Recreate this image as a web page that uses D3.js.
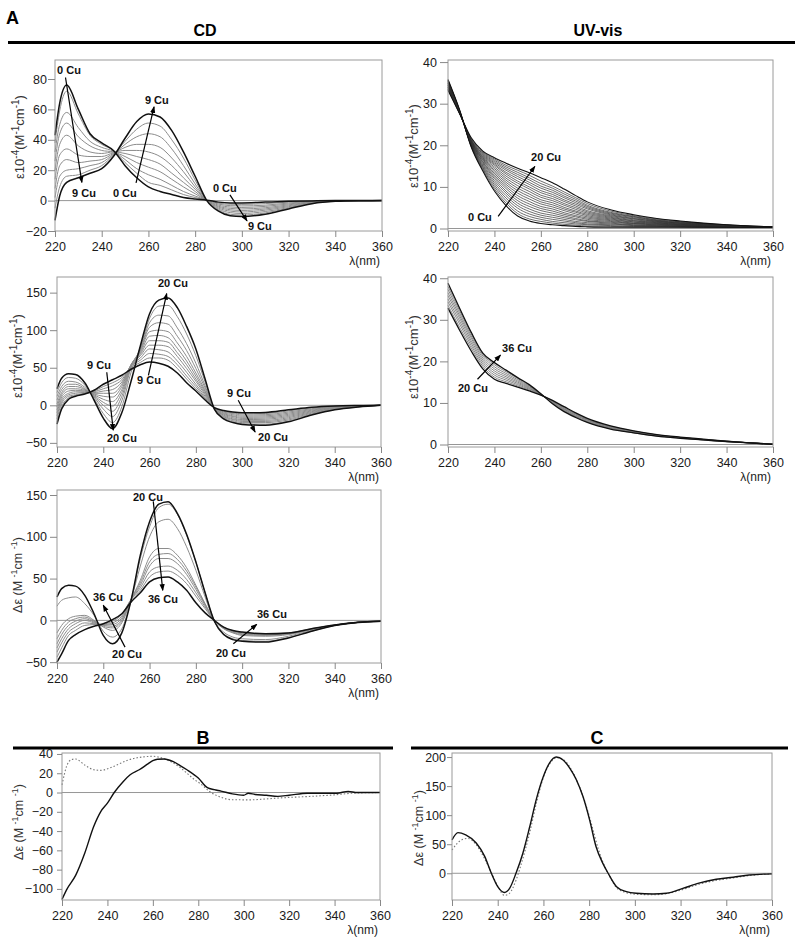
<!DOCTYPE html>
<html><head><meta charset="utf-8">
<script src="https://cdn.jsdelivr.net/npm/d3@7"></script>
<style>
body{margin:0;background:#fff}
svg{display:block}
text{font-family:Arial,"Liberation Sans",sans-serif}
</style>
</head><body>
<svg id="fig" width="800" height="943"></svg>
<script>
// ---------------- DATA ----------------
const xTicks = [220,240,260,280,300,320,340,360];

// Panel A / CD (0 -> 9 Cu); rows = wavelength, columns = Cu equivalents
const cd1Cu = [0,1,2,3,4,5,6,7,8,9];
const cd1Wl = [220,222,225,230,235,240,245,250,255,260,265,270,275,280,285,290,295,300,310,320,330,340,350,360];
const cd1Table = [
 [43,38,32,26,20,14,8,2,-5,-13],
 [64,59,50,44,37,30,23,16,9,3],
 [76,72,58,51,43,34,27,20,16,12],
 [60,57,48,42,36,30,25,21,17,15],
 [44,43,39,36,32,29,26,23,20,18],
 [38,37,35,33,31,29,27,25,23,21],
 [33,33,32.5,32,32,31.5,31,30.5,30,29],
 [23,25,27,29,31,33,35,37,39,41],
 [15,18,21,25,29,33,37,42,47,52],
 [9,12,17,22,27,32,37,44,51,57],
 [6,10,14,19,24,29,35,42,49,55],
 [4,7,10,14,18,23,28,34,40,46],
 [2,4,6,9,12,15,19,23,28,32],
 [1,2,3,4.5,6,7.5,9,11,13.5,16],
 [0.3,0.3,0.2,0.2,0.1,0.1,0,0,0,0],
 [-1,-1.7,-2.3,-3,-3.7,-4.3,-5,-5.7,-6.3,-7],
 [-1.5,-2.4,-3.3,-4.2,-5.1,-6,-6.9,-7.9,-9,-10],
 [-1.5,-2.5,-3.5,-4.5,-5.5,-6.5,-7.5,-8.5,-9.5,-10.5],
 [-1,-2,-3,-3.8,-4.7,-5.5,-6.3,-7.2,-8.1,-9],
 [-0.5,-1,-1.6,-2.2,-2.8,-3.4,-4,-4.6,-5,-5.5],
 [-0.2,-0.4,-0.6,-0.8,-1,-1.2,-1.4,-1.6,-1.8,-2],
 [0,-0.1,-0.1,-0.2,-0.2,-0.3,-0.3,-0.4,-0.4,-0.5],
 [0,0,0,0,0,0,-0.1,-0.1,-0.1,-0.1],
 [0,0,0,0,0,0,0,0,0,0]
];

// Panel A / UV-vis (0 -> 20 Cu)
const uv1Cu = d3.range(0,21);
const uvWl = [220,225,230,235,240,245,250,255,260,265,270,275,280,290,300,310,320,330,340,350,360];
const uv1Table = [
 [35.8,35.7,35.5,35.4,35.3,35.1,35.0,34.9,34.8,34.6,34.5,34.4,34.3,34.1,34.0,33.9,33.8,33.6,33.5,33.4,33.2],
 [28.5,28.4,28.4,28.3,28.3,28.2,28.2,28.1,28.1,28.0,28.0,28.0,27.9,27.9,27.8,27.8,27.8,27.7,27.7,27.6,27.6],
 [19.6,19.7,19.8,19.9,20.0,20.1,20.2,20.3,20.4,20.5,20.6,20.7,20.8,20.9,21.0,21.1,21.2,21.3,21.4,21.6,21.8],
 [13.8,14.1,14.4,14.7,15.0,15.3,15.6,15.9,16.1,16.4,16.6,16.8,17.0,17.2,17.4,17.6,17.8,18.0,18.2,18.4,18.6],
 [9.0,9.5,10.0,10.5,11.0,11.5,12.0,12.4,12.8,13.2,13.6,14.0,14.4,14.8,15.2,15.5,15.8,16.1,16.4,16.7,17.0],
 [5.5,6.1,6.7,7.3,7.9,8.5,9.0,9.6,10.1,10.6,11.1,11.6,12.1,12.6,13.1,13.5,14.0,14.4,14.8,15.2,15.7],
 [3.0,3.6,4.2,4.9,5.5,6.1,6.7,7.3,7.9,8.5,9.1,9.7,10.3,10.9,11.4,12.0,12.5,13.0,13.5,14.0,14.5],
 [1.8,2.3,2.9,3.5,4.1,4.7,5.3,5.9,6.5,7.1,7.7,8.3,8.9,9.5,10.0,10.6,11.1,11.7,12.2,12.8,13.4],
 [1.2,1.7,2.2,2.7,3.2,3.7,4.3,4.8,5.3,5.9,6.4,6.9,7.5,8.0,8.6,9.1,9.7,10.2,10.8,11.4,12.2],
 [0.9,1.3,1.7,2.2,2.7,3.2,3.7,4.2,4.7,5.2,5.7,6.2,6.7,7.2,7.7,8.2,8.7,9.2,9.7,10.2,11.0],
 [0.7,1.0,1.4,1.8,2.2,2.6,3.0,3.4,3.8,4.3,4.7,5.1,5.6,6.0,6.5,6.9,7.4,7.8,8.3,8.8,9.5],
 [0.5,0.8,1.1,1.4,1.7,2.1,2.4,2.8,3.1,3.5,3.9,4.2,4.6,5.0,5.4,5.8,6.2,6.6,7.0,7.4,7.9],
 [0.4,0.6,0.9,1.1,1.4,1.7,1.9,2.2,2.5,2.8,3.1,3.4,3.7,4.0,4.3,4.7,5.0,5.3,5.6,6.0,6.4],
 [0.3,0.5,0.7,0.9,1.1,1.3,1.5,1.7,1.9,2.1,2.3,2.5,2.7,2.9,3.1,3.3,3.5,3.7,3.9,4.2,4.5],
 [0.3,0.4,0.5,0.7,0.8,0.9,1.1,1.2,1.3,1.5,1.6,1.8,1.9,2.1,2.3,2.4,2.6,2.8,2.9,3.1,3.3],
 [0.3,0.4,0.5,0.6,0.7,0.8,0.9,1.0,1.1,1.2,1.3,1.4,1.5,1.6,1.7,1.8,1.9,2.0,2.1,2.3,2.4],
 [0.3,0.4,0.4,0.5,0.6,0.6,0.7,0.8,0.8,0.9,1.0,1.0,1.1,1.2,1.3,1.3,1.4,1.5,1.6,1.7,1.8],
 [0.3,0.3,0.4,0.4,0.5,0.5,0.6,0.6,0.7,0.7,0.8,0.8,0.9,0.9,1.0,1.0,1.1,1.1,1.2,1.2,1.3],
 [0.3,0.3,0.3,0.4,0.4,0.4,0.5,0.5,0.5,0.6,0.6,0.6,0.7,0.7,0.7,0.8,0.8,0.8,0.8,0.9,0.9],
 [0.3,0.3,0.3,0.3,0.3,0.4,0.4,0.4,0.4,0.4,0.4,0.5,0.5,0.5,0.5,0.5,0.5,0.5,0.6,0.6,0.6],
 [0.3,0.3,0.3,0.3,0.3,0.3,0.3,0.3,0.3,0.3,0.3,0.3,0.3,0.4,0.4,0.4,0.4,0.4,0.4,0.4,0.4]
];

// Panel A / CD (9 -> 20 Cu) and (20 -> 36 Cu)
const cdWl = [220,222,225,228,232,236,240,244,248,252,256,260,264,268,272,276,280,284,288,292,296,300,310,320,330,340,350,360];
const cd2Cu = [9,10,11,12,13,14,15,16,17,18,19,20];
const cd2Table = [
 [-25,-22,-18,-14,-10,-6,-2,2,7,12,17,22],
 [-5,-2,2,5,8,11,14,17,21,25,30,36],
 [8,10,12,14,16,19,22,25,28,32,37,42],
 [12,13,14,16,18,20,22,25,28,31,36,41],
 [15,15.5,16,17,18,19,20,21,22,24,27,30],
 [20,19,18,17,16,15,14,13,12,11,9,7],
 [28,25,22,19,16,12,8,4,0,-5,-11,-17],
 [34,30,26,21,16,11,5,-1,-8,-15,-23,-31],
 [40,37,34,31,28,25,21,17,12,6,-2,-10],
 [48,50,52,53,54,54,54,53,52,50,44,32],
 [54,57,60,63,66,68,70,72,74,75,77,79],
 [57.5,63,69,75,80,86,92,98,104,110,116,122],
 [56,63,68,74,80,86,93,100,110,120,132,140],
 [52,60,65,71,78,84,90,98,108,119,133,143],
 [43,49,54,59,65,70,76,83,92,103,118,130],
 [30,35,39,44,49,54,59,65,73,82,95,105],
 [19,22,25,28,32,35,39,43,49,56,66,75],
 [7,9,10,12,14,16,18,20,23,26,31,35],
 [-3,-3,-3.5,-3.5,-4,-4,-4,-4.5,-4.5,-4.5,-5,-5],
 [-7,-8,-9,-10,-11,-12,-13,-14,-15,-16,-17,-18],
 [-9,-10,-11,-12.5,-14,-15,-16.5,-18,-19,-20.5,-22,-23],
 [-10,-11.5,-13,-14.5,-16,-17.5,-19,-20,-21.5,-23,-24.5,-25.5],
 [-9.5,-11,-12.5,-14,-15.5,-17,-18.5,-20,-21.5,-23,-25,-26.5],
 [-6,-7.5,-9,-10.5,-12,-13.5,-15,-16.5,-18,-19.5,-21,-22],
 [-2.5,-3.5,-4.5,-5.5,-6.5,-7.5,-8.5,-9.5,-10.5,-11.5,-12.5,-13],
 [-0.8,-1.2,-1.7,-2.2,-2.7,-3.2,-3.7,-4.2,-4.7,-5.2,-5.7,-6],
 [-0.2,-0.4,-0.6,-0.8,-1,-1.2,-1.4,-1.6,-1.8,-2,-2.2,-2.3],
 [0,0,0,0,0,0,0,0,0,0,0,0]
];
const cd3Cu = [20,22,24,26,28,30,32,34,36];
const cd3Table = [
 [28,17,-15,-22,-28,-33,-38,-44,-50],
 [38,24,-6,-12,-17,-22,-27,-33,-40],
 [42,27,2,-2,-6,-10,-14,-18,-24],
 [41,28,5,2,-1,-4,-8,-12,-17],
 [30,20,6,4,2,0,-3,-6,-11],
 [8,6,0,-1,-2,-3,-4,-5,-7],
 [-18,-13,-8,-7,-6,-5.5,-5,-4.5,-4],
 [-28,-20,-12,-9,-7,-5,-3,-1,1],
 [-15,-10,-3,-1,1,3,5,7,8],
 [24,24,25,25,25,25,25,25,22],
 [78,74,65,48,45,42,39,36,33],
 [118,112,100,76,70,65,58,52,46],
 [139,135,118,86,79,74,64,58,51],
 [142,139,121,86,80,74,65,59,52],
 [128,127,110,78,73,68,60,54,46],
 [103,102,88,63,59,55,49,44,36],
 [70,70,60,42,40,37,33,29,21],
 [33,33,28,20,19,18,16,14,9],
 [-1,-1,-1,0,0,0,0,0,0],
 [-17,-16,-14,-10,-9.5,-9,-8.5,-8,-8],
 [-23,-22,-20,-15,-14.5,-14,-13,-12.5,-12],
 [-25,-24,-22,-18,-17,-16,-15,-14.5,-14],
 [-26,-25,-23,-19,-18,-17.5,-17,-16.5,-16],
 [-21,-20.5,-19,-17,-16.5,-16,-15.5,-15,-15],
 [-13,-13,-12,-11,-11,-10.5,-10.5,-10,-10],
 [-6,-6,-6,-5.8,-5.8,-5.7,-5.6,-5.5,-5.5],
 [-2.5,-2.5,-2.4,-2.4,-2.4,-2.3,-2.3,-2.3,-2.2],
 [-1,-1,-1,-1,-1,-1,-1,-1,-1]
];

// Panel A / UV-vis (20 -> 36 Cu)
const uv2Cu = [20,22,24,26,28,30,32,34,36];
const uv2Table = [
 [32.8,33.5,34.3,35,35.8,36.5,37.3,38,38.8],
 [27.5,28.2,29,29.7,30.4,31,31.6,32.2,32.8],
 [22.5,23.2,23.8,24.4,25,25.6,26.1,26.6,27],
 [18.2,18.8,19.3,19.8,20.3,20.8,21.3,21.7,22],
 [15.7,16.2,16.7,17.2,17.7,18.2,18.7,19.2,19.7],
 [14.7,15.1,15.5,15.9,16.3,16.7,17.1,17.5,17.9],
 [13.8,14.1,14.4,14.7,15,15.3,15.6,15.9,16.1],
 [12.9,13.1,13.3,13.5,13.7,13.9,14.1,14.3,14.4],
 [11.9,11.9,12,12,12.1,12.1,12.1,12.2,12.2],
 [10.6,10.5,10.4,10.3,10.2,10.1,10,9.9,9.8],
 [9.1,8.9,8.8,8.6,8.5,8.3,8.2,8.0,7.9],
 [7.6,7.4,7.3,7.1,7,6.8,6.7,6.6,6.5],
 [6.3,6.1,6,5.9,5.8,5.6,5.5,5.4,5.3],
 [4.5,4.4,4.3,4.2,4.1,4.0,3.9,3.8,3.7],
 [3.3,3.2,3.2,3.1,3.0,3.0,2.9,2.8,2.8],
 [2.4,2.3,2.3,2.2,2.2,2.1,2.1,2.0,2.0],
 [1.8,1.7,1.7,1.7,1.6,1.6,1.6,1.5,1.5],
 [1.3,1.2,1.2,1.2,1.2,1.1,1.1,1.1,1.1],
 [0.8,0.8,0.8,0.8,0.7,0.7,0.7,0.7,0.7],
 [0.4,0.4,0.4,0.4,0.4,0.4,0.4,0.4,0.4],
 [0.05,0.05,0.05,0.05,0.05,0.05,0.05,0.05,0.05]
];

// Panel B
const bSolidWl = [220,222,226,230,234,237,240,243,247,250,254,258,260,262,265,269,272,275,280,284,287,290,295,300,302,305,310,315,320,328,335,341,346,350,355,360];
const bSolid   = [-111,-101,-86,-63,-35,-20,-11,0,11.5,18.4,23.6,30,33,34.5,34.8,32,28,23.6,15,5,3,1.5,-1.4,-2.8,-0.8,-2,-2.8,-4,-2.8,-0.7,-0.8,-0.7,1.2,0,0,0];
const bDotWl = [220,222,224,226,230,234,237,241,245,249,253,256,260,263,266,269,272,275,278,281,285,290,295,303,310,319,328,340,348,360];
const bDot   = [8,27,34,34.8,28.5,23.6,23,25.4,29.5,33.6,36,37,37.6,36.5,34,30.6,26,20,14,9,1,-5,-7.5,-7.6,-6.6,-5.2,-4.2,-2.4,-0.7,0];

// Panel C
const cSolidWl = [220,222.6,226,230.6,234.3,237.2,240,243,245.2,248,251,254,257,260,262.7,265.6,268.6,271.5,274.4,277.3,280.2,283,286,288.3,292,296.3,300.6,308,313.8,321,328,335.6,343,350,360];
const cSolid   = [57.5,70,66,52,29,0,-23,-33,-26,0,34.5,80,129,167,190,200,195,181,161,132,92,46,17,0,-23,-31.6,-34.5,-35.6,-34.5,-26,-17,-10.3,-6.9,-2.9,-1];
const cDotWl = [220,224,227,230,234,237,240,243,245,248,250,254,257,260,263,266,269,272,275,278,281,284,287,289,292,296,300,308,314,321,328,336,343,350,360];
const cDot   = [40,57,60,52,27,3,-22,-38,-35,-12,12,70,122,165,190,199,195,180,156,125,85,42,10,-5,-25,-33,-36,-37,-35,-28,-19,-12,-8,-4,-1];

// Annotations (text anchored at wavelength/value; arrows from -> to)
const cd1Notes = [["0 Cu",220.9,83],["9 Cu",227.3,2.4],["9 Cu",258.5,63.6],["0 Cu",244.8,2.4],["0 Cu",287.6,5.7],["9 Cu",302.6,-19.3]];
const cd1Arrows = [[224.5,81,231.5,12],[254.7,11.6,262.4,61.6],[294.9,3.8,302.2,-13.3]];
const cd2Notes = [["20 Cu",263.6,157.5],["9 Cu",254.6,28.4],["9 Cu",233,48.3],["20 Cu",241.6,-48.9],["9 Cu",293.5,11],["20 Cu",306.9,-47.6]];
const cd2Arrows = [[259.5,40,267.4,148.7],[241.5,44,244.3,-33],[298.3,6.7,305.6,-35.5]];
const cd3Notes = [["20 Cu",252.8,142.9],["36 Cu",259.3,20.8],["36 Cu",235.6,23.2],["20 Cu",243.8,-45],["36 Cu",306.4,2.9],["20 Cu",288.7,-43.8]];
const cd3Arrows = [[261.6,142.4,265.7,36],[249.4,-32,240,18],[296.2,-28,306.3,-4.8]];
const uv1Notes = [["20 Cu",255.8,16.3],["0 Cu",228.6,1.8]];
const uv1Arrows = [[241.6,2.9,257.4,14.9]];
const uv2Notes = [["36 Cu",243.3,22.3],["20 Cu",224.3,12.6]];
const uv2Arrows = [[232.7,15.7,242.6,21.5]];

// ---------------- DRAWING ----------------
const svg = d3.select("#fig");
const defs = svg.append("defs");
defs.append("marker").attr("id","ah").attr("viewBox","0 0 8 6").attr("refX",7).attr("refY",3)
  .attr("markerWidth",7).attr("markerHeight",5.5).attr("markerUnits","userSpaceOnUse").attr("orient","auto")
  .append("path").attr("d","M0,0L8,3L0,6Z").attr("fill","#000");

function tableSeries(wl, table, keys, thickKeys, style){
  const cols = d3.transpose(table);
  return keys.map((k,i)=>({wl:wl, v:cols[i], thick:thickKeys.includes(k), style:style}));
}

function ylabel(g, x, y, kind){
  const fs = kind==="eps" ? 13 : 12.5, ss = kind==="eps" ? 10 : 9;
  const t = g.append("text").attr("transform",`translate(${x},${y}) rotate(-90)`)
    .attr("text-anchor","middle").attr("font-size",fs).attr("fill","#333");
  const sup = s => t.append("tspan").attr("font-size",ss).attr("dy",-5).text(s);
  const base = s => t.append("tspan").attr("font-size",fs).attr("dy",5).text(s);
  if(kind==="eps"){
    t.append("tspan").text("\u03b510");
    sup("-4"); base("(M"); sup("-1"); base("cm"); sup("-1"); base(")");
  } else {
    t.append("tspan").text("\u0394\u03b5  (M ");
    sup("-1"); base("cm "); sup("-1"); base(")");
  }
}

function panel(c){
  const g = svg.append("g");
  const x = d3.scaleLinear().domain([220,360]).range([c.l,c.r]);
  const y = d3.scaleLinear().domain(c.yDomain).range([c.b,c.t]);
  const line = d3.line().x(d=>x(d[0])).y(d=>y(d[1])).curve(d3.curveMonotoneX);

  g.append("line").attr("x1",c.l).attr("x2",c.r).attr("y1",y(0)).attr("y2",y(0))
    .attr("stroke","#8a8a8a").attr("stroke-width",0.9);

  const ordered = c.series.filter(s=>!s.thick).concat(c.series.filter(s=>s.thick));
  ordered.forEach(s=>{
    const p = g.append("path").datum(s.wl.map((w,i)=>[w,s.v[i]])).attr("d",line).attr("fill","none");
    const st = s.style;
    p.attr("stroke", s.thick ? st.thickColor : st.color)
     .attr("stroke-width", s.thick ? st.thickWidth : st.width);
    if(st.dash) p.attr("stroke-dasharray", st.dash);
  });

  g.append("rect").attr("x",c.l).attr("y",c.t).attr("width",c.r-c.l).attr("height",c.b-c.t)
    .attr("fill","none").attr("stroke","#9a9a9a").attr("stroke-width",1);

  const ya = g.append("g").attr("transform",`translate(${c.l},0)`)
    .call(d3.axisLeft(y).tickValues(c.yTicks).tickSize(c.yTick).tickPadding(c.yPad).tickFormat(d3.format("d")));
  const xa = g.append("g").attr("transform",`translate(0,${c.b})`)
    .call(d3.axisBottom(x).tickValues(xTicks).tickSize(6).tickPadding(5).tickFormat(d3.format("d")));
  [ya,xa].forEach(a=>{
    a.select(".domain").remove();
    a.selectAll(".tick line").attr("stroke","#888");
    a.selectAll(".tick text").attr("font-size",12.5).attr("fill","#1a1a1a")
      .attr("font-family","Arial, 'Liberation Sans', sans-serif");
  });

  g.append("text").attr("x",c.r-2).attr("y",c.b+34).attr("text-anchor","end")
    .attr("font-size",12).attr("fill","#222").text("\u03bb(nm)");

  ylabel(g, c.ylx, c.yly, c.ykind);

  (c.arrows||[]).forEach(a=>{
    g.append("line").attr("x1",x(a[0])).attr("y1",y(a[1])).attr("x2",x(a[2])).attr("y2",y(a[3]))
      .attr("stroke","#000").attr("stroke-width",1.2).attr("marker-end","url(#ah)");
  });
  (c.notes||[]).forEach(n=>{
    g.append("text").attr("x",x(n[1])).attr("y",y(n[2])).attr("font-size",11)
      .attr("font-weight","bold").attr("fill","#111").text(n[0]);
  });
}

const cdStyle = {color:"#8c8c8c", width:1, thickColor:"#111", thickWidth:1.5};
const uvStyle = {color:"#2e2e2e", width:0.7, thickColor:"#111", thickWidth:1.1};
const uv2Style = {color:"#7a7a7a", width:0.9, thickColor:"#111", thickWidth:1.3};

// headers
svg.append("text").attr("x",6).attr("y",24).attr("font-size",18).attr("font-weight","bold").text("A");
svg.append("text").attr("x",205).attr("y",36).attr("text-anchor","middle").attr("font-size",16)
  .attr("font-weight","bold").attr("font-stretch","condensed")
  .attr("font-family","'Liberation Sans Narrow','Arial Narrow',Arial,sans-serif").text("CD");
svg.append("text").attr("x",598).attr("y",36).attr("text-anchor","middle").attr("font-size",16)
  .attr("font-weight","bold").attr("font-stretch","condensed")
  .attr("font-family","'Liberation Sans Narrow','Arial Narrow',Arial,sans-serif").text("UV-vis");
svg.append("line").attr("x1",8).attr("x2",795).attr("y1",42.5).attr("y2",42.5).attr("stroke","#000").attr("stroke-width",3);

svg.append("text").attr("x",203).attr("y",744).attr("text-anchor","middle").attr("font-size",18).attr("font-weight","bold").text("B");
svg.append("line").attr("x1",13).attr("x2",393).attr("y1",748).attr("y2",748).attr("stroke","#000").attr("stroke-width",3);
svg.append("text").attr("x",597).attr("y",744).attr("text-anchor","middle").attr("font-size",18).attr("font-weight","bold").text("C");
svg.append("line").attr("x1",411).attr("x2",788).attr("y1",748).attr("y2",748).attr("stroke","#000").attr("stroke-width",3);

panel({l:55,r:382,t:60,b:231,yDomain:[-20,92.5],yTicks:[-20,0,20,40,60,80],yTick:7,yPad:1,
  series:tableSeries(cd1Wl,cd1Table,cd1Cu,[0,9],cdStyle),ylx:24,yly:137,ykind:"eps",
  notes:cd1Notes,arrows:cd1Arrows});
panel({l:448,r:773,t:60,b:231,yDomain:[-0.6,40.5],yTicks:[0,10,20,30,40],yTick:8,yPad:3,
  series:tableSeries(uvWl,uv1Table,uv1Cu,[0,20],uvStyle),ylx:418,yly:146,ykind:"eps",
  notes:uv1Notes,arrows:uv1Arrows});
panel({l:57,r:381,t:277,b:447,yDomain:[-55.5,170.8],yTicks:[-50,0,50,100,150],yTick:7,yPad:3,
  series:tableSeries(cdWl,cd2Table,cd2Cu,[9,20],cdStyle),ylx:22,yly:356,ykind:"eps",
  notes:cd2Notes,arrows:cd2Arrows});
panel({l:448,r:773,t:277,b:447,yDomain:[-0.6,40.3],yTicks:[0,10,20,30,40],yTick:8,yPad:3,
  series:tableSeries(uvWl,uv2Table,uv2Cu,[20,36],uv2Style),ylx:418,yly:357,ykind:"eps",
  notes:uv2Notes,arrows:uv2Arrows});
panel({l:57,r:381,t:490,b:663,yDomain:[-51,156],yTicks:[-50,0,50,100,150],yTick:7,yPad:3,
  series:tableSeries(cdWl,cd3Table,cd3Cu,[20,36],cdStyle),ylx:22,yly:575,ykind:"delta",
  notes:cd3Notes,arrows:cd3Arrows});
panel({l:62,r:380,t:753,b:900,yDomain:[-111.5,41],yTicks:[-100,-80,-60,-40,-20,0,20,40],yTick:5,yPad:4,
  series:[{wl:bDotWl,v:bDot,thick:false,style:{color:"#777",width:1.1,dash:"1.5,2"}},
          {wl:bSolidWl,v:bSolid,thick:true,style:{thickColor:"#111",thickWidth:1.4}}],
  ylx:23,yly:822,ykind:"delta"});
panel({l:452,r:772,t:753,b:900,yDomain:[-46,207],yTicks:[0,50,100,150,200],yTick:5,yPad:1,
  series:[{wl:cDotWl,v:cDot,thick:false,style:{color:"#777",width:1.1,dash:"1.5,2"}},
          {wl:cSolidWl,v:cSolid,thick:true,style:{thickColor:"#111",thickWidth:1.4}}],
  ylx:423,yly:828,ykind:"delta"});
</script>
</body></html>
